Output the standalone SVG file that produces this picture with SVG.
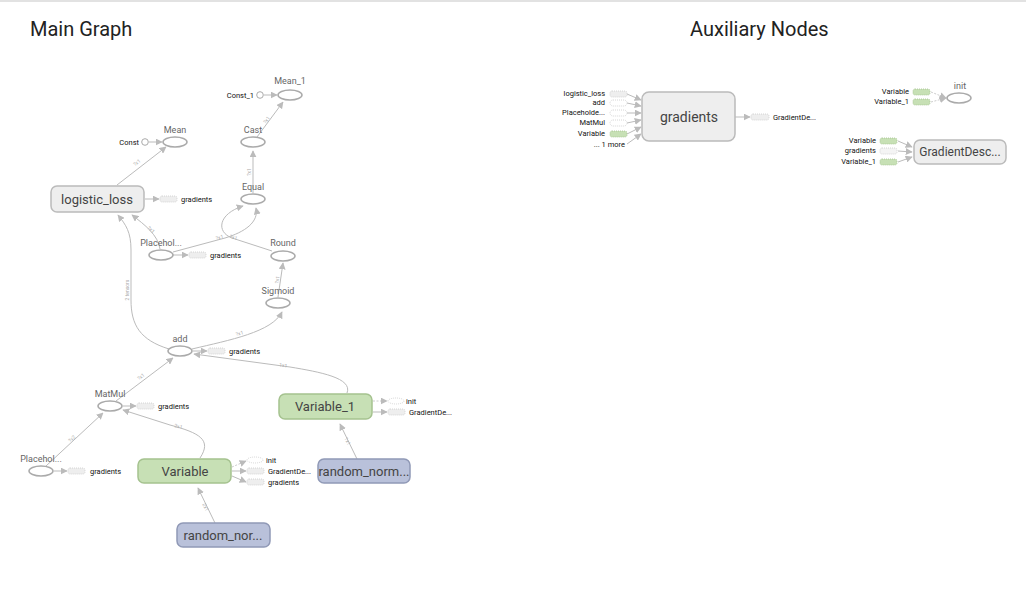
<svg xmlns="http://www.w3.org/2000/svg" width="1026" height="594" viewBox="0 0 1026 594">
<defs>
<style>
text{font-family:Roboto,"Liberation Sans",sans-serif}
.title{font-size:20px;fill:#222}
.nl{font-size:9px;fill:#666;text-anchor:middle}
.bl{font-size:13px;fill:#444;text-anchor:middle}
.sl{font-size:7.5px;fill:#111}
.sr{font-size:7.5px;fill:#111;text-anchor:end}
.el{font-size:5px;fill:#aaa;text-anchor:middle}
.op{fill:#fff;stroke:#aaa;stroke-width:1.5}
.box{fill:#eee;stroke:#bbb;stroke-width:1.5}
.var{fill:#c7e0b5;stroke:#a5c28f;stroke-width:1.5}
.rnd{fill:#b9c1da;stroke:#9099b6;stroke-width:1.5}
.e{fill:none;stroke:#bbb;stroke-width:1}
.ed{fill:none;stroke:#ccc;stroke-width:1;stroke-dasharray:2,1.5}
.ag{fill:#eee;stroke:#ccc;stroke-width:0.8;stroke-dasharray:1,1}
.ai{fill:#fff;stroke:#ccc;stroke-width:0.8;stroke-dasharray:1,1}
.av{fill:#c7e0b5;stroke:#a5c28f;stroke-width:0.8;stroke-dasharray:1,1}
.cst{fill:#fff;stroke:#aaa;stroke-width:1}
</style>
<marker id="ar" viewBox="0 0 10 10" refX="9" refY="5" markerWidth="7" markerHeight="7" markerUnits="userSpaceOnUse" orient="auto"><path d="M0,0 L10,5 L0,10 z" fill="#bbb"/></marker>
</defs>
<rect x="0" y="0" width="1026" height="594" fill="#fff"/>
<line x1="0" y1="1" x2="1026" y2="1" stroke="#e2e2e2" stroke-width="2"/>
<text class="title" x="30" y="36">Main Graph</text>
<text class="title" x="690" y="36">Auxiliary Nodes</text>

<g id="connectors">
<path class="e" d="M264,95 L277,95" marker-end="url(#ar)"/>
<path class="e" d="M149,142 L162,142" marker-end="url(#ar)"/>
<path class="e" d="M257,137 L283,102" marker-end="url(#ar)"/>
<text class="el" transform="translate(268,121) rotate(-53)">?x1</text>
<path class="e" d="M117,185 L166,147" marker-end="url(#ar)"/>
<text class="el" transform="translate(138,164) rotate(-38)">?x1</text>
<path class="e" d="M253,193 L253,151" marker-end="url(#ar)"/>
<text class="el" transform="translate(251,172) rotate(-90)">?x1</text>
<path class="e" d="M272,251 L232,238 C216,232 218,214 243,206" marker-end="url(#ar)"/>
<path class="e" d="M173,252 L225,238 C245,232 259,222 256,208" marker-end="url(#ar)"/>
<text class="el" transform="translate(220,239) rotate(-15)">?x1</text>
<text class="el" transform="translate(233,239) rotate(18)">?x1</text>
<path class="e" d="M160,249 C158,235 145,225 132,215" marker-end="url(#ar)"/>
<text class="el" transform="translate(150,231) rotate(40)">?x1</text>
<path class="e" d="M278,297 L283,263" marker-end="url(#ar)"/>
<text class="el" transform="translate(279,280) rotate(-82)">?x1</text>
<path class="e" d="M192,349 C230,340 272,332 282,312" marker-end="url(#ar)"/>
<text class="el" transform="translate(240,335) rotate(-15)">?x1</text>
<path class="e" d="M169,349 C140,340 131,325 131,300 L131,250 C131,232 126,225 118,215" marker-end="url(#ar)"/>
<text class="el" transform="translate(129,290) rotate(-90)">2 tensors</text>
<path class="e" d="M347,393 C353,378 320,372 290,367 L194,354" marker-end="url(#ar)"/>
<text class="el" transform="translate(283,367) rotate(8)">1x1</text>
<path class="e" d="M116,401 L173,358" marker-end="url(#ar)"/>
<text class="el" transform="translate(142,378) rotate(-37)">?x1</text>
<path class="e" d="M200,458 C212,440 200,433 170,425 L123,410" marker-end="url(#ar)"/>
<text class="el" transform="translate(178,428) rotate(15)">2x1</text>
<path class="e" d="M46,466 L103,413" marker-end="url(#ar)"/>
<text class="el" transform="translate(73,440) rotate(-43)">?x2</text>
<path class="e" d="M215,523 L198,488" marker-end="url(#ar)"/>
<text class="el" transform="translate(204,508) rotate(64)">2x1</text>
<path class="e" d="M357,459 L340,424" marker-end="url(#ar)"/>
<text class="el" transform="translate(346,442) rotate(64)">1x1</text>
<path class="e" d="M145,199 L159,199" marker-end="url(#ar)"/>
<path class="e" d="M173,255 L188,255" marker-end="url(#ar)"/>
<path class="e" d="M193,351 L207,351" marker-end="url(#ar)"/>
<path class="e" d="M123,406 L136,406" marker-end="url(#ar)"/>
<path class="e" d="M54,471 L67,471" marker-end="url(#ar)"/>
<path class="ed" d="M232,467 L246,461" marker-end="url(#ar)"/>
<path class="e" d="M232,471 L246,471" marker-end="url(#ar)"/>
<path class="e" d="M232,476 L246,482" marker-end="url(#ar)"/>
<path class="ed" d="M373,401 L387,401" marker-end="url(#ar)"/>
<path class="e" d="M373,412 L387,412" marker-end="url(#ar)"/>
<path class="e" d="M627,94 L641,100" marker-end="url(#ar)"/>
<path class="e" d="M627,103 L641,106" marker-end="url(#ar)"/>
<path class="e" d="M627,113 L641,113" marker-end="url(#ar)"/>
<path class="e" d="M627,123 L641,120" marker-end="url(#ar)"/>
<path class="e" d="M627,134 L641,127" marker-end="url(#ar)"/>
<path class="e" d="M627,144 L641,134" marker-end="url(#ar)"/>
<path class="e" d="M735,117 L750,117" marker-end="url(#ar)"/>
<path class="ed" d="M931,92 L946,98" marker-end="url(#ar)"/>
<path class="ed" d="M931,102 L946,98" marker-end="url(#ar)"/>
<path class="e" d="M898,141 L912,147" marker-end="url(#ar)"/>
<path class="e" d="M898,151 L912,152" marker-end="url(#ar)"/>
<path class="e" d="M898,162 L912,157" marker-end="url(#ar)"/>
</g>

<g id="Mean_1"><ellipse class="op" cx="290" cy="95" rx="12" ry="5"/><text class="nl" x="290" y="84">Mean_1</text></g>
<g id="Const_1"><circle class="cst" cx="260" cy="95" r="3.3"/><text class="sr" x="254" y="97.5">Const_1</text></g>
<g id="Cast"><ellipse class="op" cx="253" cy="142" rx="12" ry="5"/><text class="nl" x="253" y="133">Cast</text></g>
<g id="Mean"><ellipse class="op" cx="175" cy="142" rx="12" ry="5"/><text class="nl" x="175" y="133">Mean</text></g>
<g id="Const"><circle class="cst" cx="145" cy="142" r="3.3"/><text class="sr" x="139" y="144.5">Const</text></g>
<g id="logistic_loss"><rect class="box" x="51" y="186" width="93" height="26" rx="6"/><text class="bl" x="97" y="204">logistic_loss</text>
<rect class="ag" x="160" y="196" width="17" height="6" rx="2"/><text class="sl" x="181" y="201.5">gradients</text></g>
<g id="Equal"><ellipse class="op" cx="253" cy="199" rx="12" ry="5"/><text class="nl" x="253" y="190">Equal</text></g>
<g id="Placeholder_1"><ellipse class="op" cx="161" cy="255" rx="12" ry="5"/><text class="nl" x="161" y="246">Placehol...</text>
<rect class="ag" x="189" y="252" width="17" height="6" rx="2"/><text class="sl" x="210" y="258">gradients</text></g>
<g id="Round"><ellipse class="op" cx="283" cy="256" rx="12" ry="5"/><text class="nl" x="283" y="246">Round</text></g>
<g id="Sigmoid"><ellipse class="op" cx="278" cy="303" rx="12" ry="5"/><text class="nl" x="278" y="294">Sigmoid</text></g>
<g id="add"><ellipse class="op" cx="180" cy="351" rx="12" ry="5"/><text class="nl" x="180" y="342">add</text>
<rect class="ag" x="208" y="348" width="17" height="6" rx="2"/><text class="sl" x="229" y="354">gradients</text></g>
<g id="MatMul"><ellipse class="op" cx="110" cy="406" rx="12" ry="5"/><text class="nl" x="110" y="397">MatMul</text>
<rect class="ag" x="137" y="403" width="17" height="6" rx="2"/><text class="sl" x="158" y="409">gradients</text></g>
<g id="Placeholder"><ellipse class="op" cx="41" cy="471" rx="12" ry="5"/><text class="nl" x="41" y="462">Placehol...</text>
<rect class="ag" x="68" y="468" width="17" height="6" rx="2"/><text class="sl" x="90" y="474">gradients</text></g>
<g id="Variable"><rect class="var" x="138" y="459" width="93" height="24" rx="6"/><text class="bl" x="185" y="476">Variable</text>
<ellipse class="ai" cx="255" cy="460" rx="8" ry="3"/><text class="sl" x="266" y="462.5">init</text>
<rect class="ag" x="247" y="468" width="17" height="6" rx="2"/><text class="sl" x="268" y="473.5">GradientDe...</text>
<rect class="ag" x="247" y="479" width="17" height="6" rx="2"/><text class="sl" x="268" y="484.5">gradients</text></g>
<g id="random_normal"><rect class="rnd" x="177" y="523" width="93" height="24" rx="6"/><text class="bl" x="223" y="540">random_nor...</text></g>
<g id="Variable_1"><rect class="var" x="279" y="394" width="93" height="25" rx="6"/><text class="bl" x="325" y="411">Variable_1</text>
<ellipse class="ai" cx="396" cy="401" rx="8" ry="3"/><text class="sl" x="406" y="403.5">init</text>
<rect class="ag" x="388" y="409" width="17" height="6" rx="2"/><text class="sl" x="409" y="414.5">GradientDe...</text></g>
<g id="random_normal_1"><rect class="rnd" x="318" y="459" width="92" height="24" rx="6"/><text class="bl" x="364" y="476">random_norm...</text></g>

<g id="gradients"><rect class="box" x="642" y="92" width="93" height="49" rx="7"/><text class="bl" x="689" y="122" style="font-size:14px">gradients</text>
<rect class="ag" x="610" y="91" width="17" height="6" rx="2"/><text class="sr" x="605" y="96">logistic_loss</text>
<rect class="ai" x="610" y="100" width="17" height="6" rx="3"/><text class="sr" x="605" y="105">add</text>
<rect class="ai" x="610" y="110" width="17" height="6" rx="3"/><text class="sr" x="605" y="115">Placeholde...</text>
<rect class="ai" x="610" y="120" width="17" height="6" rx="3"/><text class="sr" x="605" y="125">MatMul</text>
<rect class="av" x="610" y="131" width="17" height="6" rx="2"/><text class="sr" x="605" y="136">Variable</text>
<text class="sr" x="625" y="147">... 1 more</text>
<rect class="ag" x="751" y="114" width="18" height="6" rx="2"/><text class="sl" x="773" y="119.5">GradientDe...</text></g>
<g id="init"><ellipse class="op" cx="959" cy="98" rx="12" ry="5"/><text class="nl" x="960" y="89">init</text>
<rect class="av" x="913" y="89" width="17" height="6" rx="2"/><text class="sr" x="909" y="94">Variable</text>
<rect class="av" x="913" y="99" width="17" height="6" rx="2"/><text class="sr" x="909" y="104">Variable_1</text></g>
<g id="GradientDescent"><rect class="box" x="914" y="140" width="92" height="24" rx="6"/><text class="bl" x="960" y="156" style="font-size:12px">GradientDesc...</text>
<rect class="av" x="880" y="138" width="17" height="6" rx="2"/><text class="sr" x="876" y="143">Variable</text>
<rect class="ai" x="880" y="148" width="17" height="6" rx="2" style="fill:#f4f4f4"/><text class="sr" x="876" y="153">gradients</text>
<rect class="av" x="880" y="159" width="17" height="6" rx="2"/><text class="sr" x="876" y="164">Variable_1</text></g>
</svg>
